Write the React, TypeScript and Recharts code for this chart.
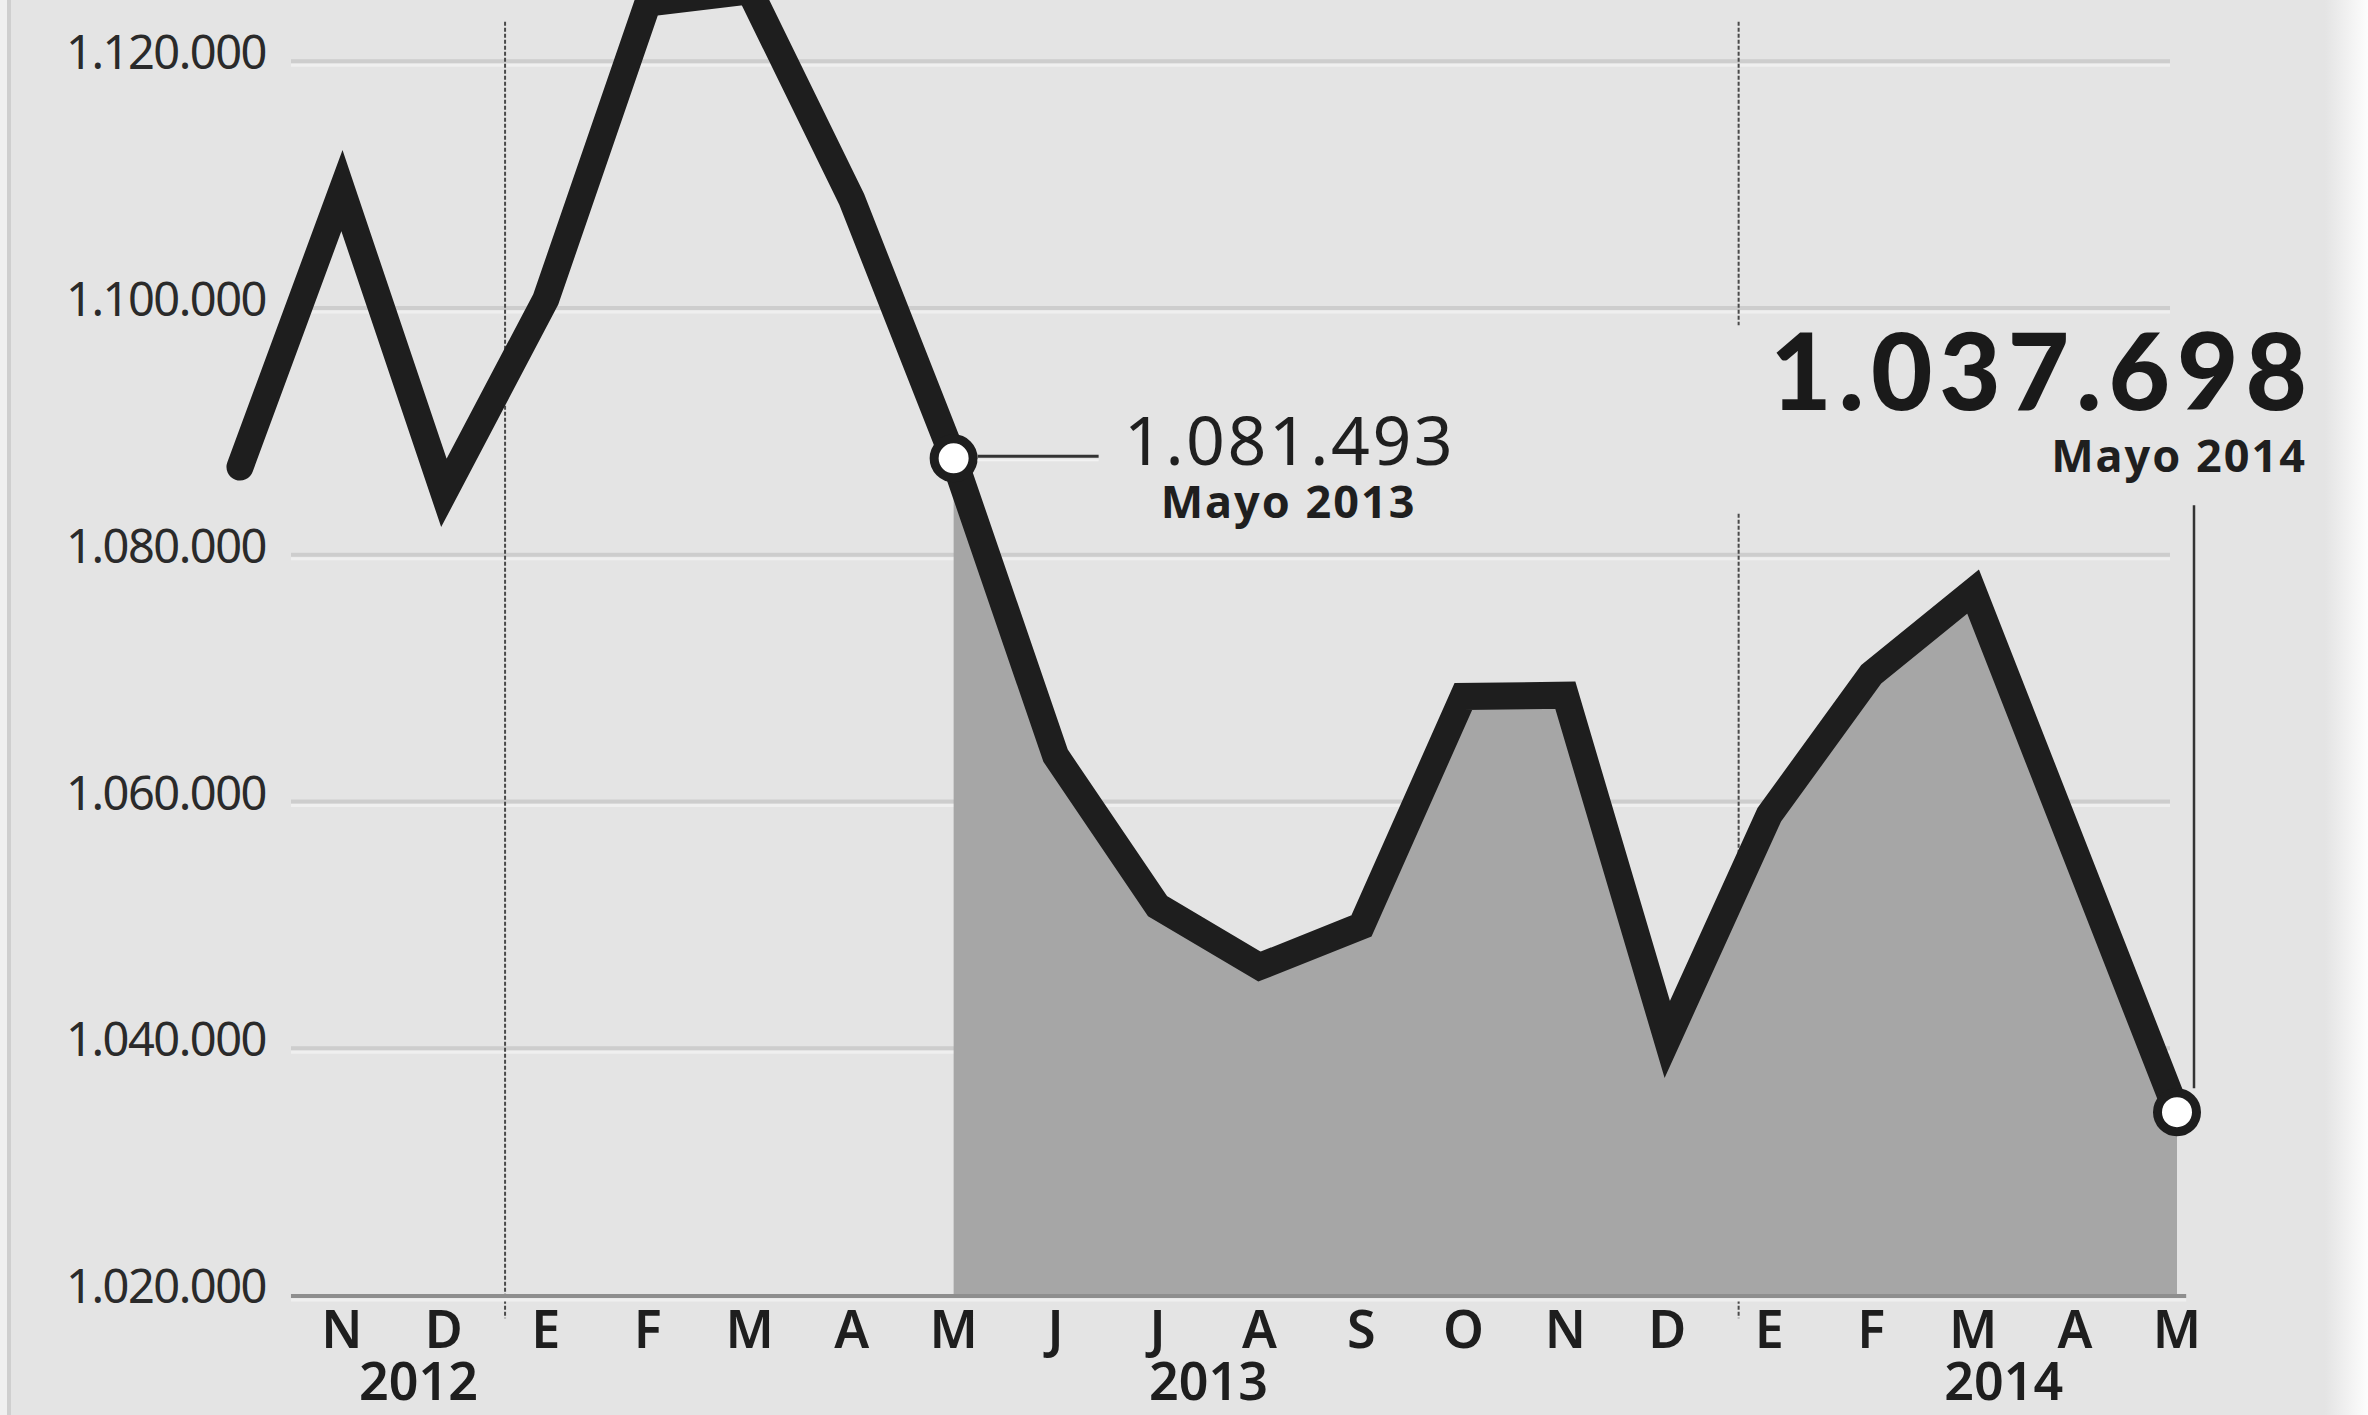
import React from 'react';
import { ComposedChart, Line, Area, XAxis, YAxis, ReferenceLine, ReferenceDot, CartesianGrid } from 'recharts';

// Meses (oct 2012 - may 2014)
const meses = ['O', 'N', 'D', 'E', 'F', 'M', 'A', 'M', 'J', 'J', 'A', 'S', 'O', 'N', 'D', 'E', 'F', 'M', 'A', 'M'];
const afiliados = [
  1087200, 1109600, 1085100, 1100800, 1124800, 1125800, 1108900, 1087900,
  1063800, 1051600, 1046700, 1050000, 1068600, 1068700, 1040800, 1059000,
  1070400, 1077100, 1056000, 1034900,
];
const inicioRelleno = 7;
const ticksY = [1020000, 1040000, 1060000, 1080000, 1100000, 1120000];
const lineasGuia = [1040000, 1060000, 1080000, 1100000, 1120000];
const ticksMeses = [1, 2, 3, 4, 5, 6, 7, 8, 9, 10, 11, 12, 13, 14, 15, 16, 17, 18, 19];
const aniosPos = [1.75, 9.5, 17.3];
const aniosTxt = ['2012', '2013', '2014'];
const destacados = [7, 19];
const etiquetas = [
  { i: 7, valor: '1.081.493', fecha: 'Mayo 2013' },
  { i: 19, valor: '1.037.698', fecha: 'Mayo 2014' },
];

const data = meses.map((m, i) => ({
  i,
  mes: m,
  v: afiliados[i],
  relleno: i >= inicioRelleno ? afiliados[i] : null,
}));

const FONT = "'Noto Sans', 'Open Sans', sans-serif";
const fmt = (n: number) => String(n).replace(/\B(?=(\d{3})+(?!\d))/g, '.');

const TickY = (p: any) => (
  <text x={p.x + 26} y={p.y + 7} textAnchor="end" fontFamily={FONT} fontSize={47}
    fontStretch="condensed" letterSpacing={-1.5} fill="#2a2a2a">
    {fmt(p.payload.value)}
  </text>
);

const TickMes = (p: any) => (
  <text x={p.x} y={p.y + 52} textAnchor="middle" fontFamily={FONT} fontSize={52}
    fontWeight={600} fontStretch="condensed" fill="#1e1e1e">
    {meses[Math.round(p.payload.value)]}
  </text>
);

const TickAnio = (p: any) => {
  const k = aniosPos.indexOf(p.payload.value);
  return (
    <text x={p.x} y={p.y + 34} textAnchor="middle" fontFamily={FONT} fontSize={52}
      fontWeight={600} fontStretch="condensed" fill="#1e1e1e">
      {aniosTxt[k]}
    </text>
  );
};

const guia = (p: any) => {
  if (p.y != null && p.height != null && p.y1 >= p.y + p.height - 1) return <g key={p.key} />;
  return (
    <g key={p.key}>
      <line x1={p.x1 + 51} x2={p.x2 - 7} y1={p.y1 - 1} y2={p.y2 - 1} stroke="#cdcdcd" strokeWidth={4} />
      <line x1={p.x1 + 51} x2={p.x2 - 7} y1={p.y1 + 3} y2={p.y2 + 3} stroke="#efefef" strokeWidth={3} />
    </g>
  );
};

const base = (p: any) => (
  <g>
    <line x1={p.x1} x2={p.x2} y1={p.y1} y2={p.y2} stroke="#8e8e8e" strokeWidth={4} />
    <line x1={p.x1} x2={p.x2} y1={p.y1 + 4} y2={p.y2 + 4} stroke="#efefef" strokeWidth={3} />
  </g>
);

const separador = (p: any) => (
  <line x1={p.x1} x2={p.x2} y1={p.y1} y2={p.y2} stroke="#4a4a4a" strokeWidth={2} strokeDasharray="4 2" />
);

const Punto = (p: any) => {
  if (!destacados.includes(p.index)) return <g key={`d${p.index}`} />;
  return <circle key={`d${p.index}`} cx={p.cx} cy={p.cy} r={19.5} fill="#ffffff" stroke="#1e1e1e" strokeWidth={9} />;
};

const Nota2013 = (p: any) => {
  const e = etiquetas[0];
  return (
    <g>
      <line x1={p.cx + 24} x2={p.cx + 145} y1={p.cy - 2} y2={p.cy - 2} stroke="#333" strokeWidth={3} />
      <line x1={p.cx + 24} x2={p.cx + 145} y1={p.cy + 2} y2={p.cy + 2} stroke="#f2f2f2" strokeWidth={2} />
      <text x={p.cx + 336} y={p.cy + 7} textAnchor="middle" fontFamily={FONT} fontSize={68}
        letterSpacing={2.5} fill="#1f1f1f">{e.valor}</text>
      <text x={p.cx + 335} y={p.cy + 60} textAnchor="middle" fontFamily={FONT} fontSize={45}
        fontWeight={700} letterSpacing={2} fill="#1f1f1f">{e.fecha}</text>
    </g>
  );
};

const Nota2014 = (p: any) => {
  const e = etiquetas[1];
  return (
    <g>
      <line x1={p.cx + 17} x2={p.cx + 17} y1={p.cy - 607} y2={p.cy - 24} stroke="#333" strokeWidth={2.5} />
      <text x={p.cx + 137} y={p.cy - 702} textAnchor="end" fontFamily="Lato, 'Noto Sans', sans-serif"
        fontSize={106} fontWeight={900} letterSpacing={7} fill="#1a1a1a">{e.valor}</text>
      <text x={p.cx + 130} y={p.cy - 640} textAnchor="end" fontFamily={FONT} fontSize={45}
        fontWeight={700} letterSpacing={2} fill="#1f1f1f">{e.fecha}</text>
    </g>
  );
};

export default function App() {
  return (
    <div style={{ position: 'absolute', left: 0, top: 0, width: 2368, height: 1415, overflow: 'hidden', background: '#e4e4e4' }}>
      <div style={{ position: 'absolute', left: 0, top: 0, width: 7, height: 1415, background: '#f0f0f0' }} />
      <div style={{ position: 'absolute', left: 7, top: 0, width: 4, height: 1415, background: '#cfcfcf' }} />
      <div style={{ position: 'absolute', left: 2325, top: 0, width: 43, height: 1415, background: 'linear-gradient(to right, #e4e4e4, #fdfdfd)' }} />
      <div style={{ position: 'absolute', left: 0, top: -61 }}>
        <ComposedChart width={2368} height={1476} data={data} margin={{ top: 0, right: 191, bottom: 0, left: 0 }}>
          <XAxis dataKey="i" type="number" domain={[0, 19]} ticks={ticksMeses} interval={0}
            axisLine={false} tickLine={false} tickSize={0} tickMargin={0} height={70} tick={<TickMes />} />
          <XAxis xAxisId="anios" dataKey="i" type="number" domain={[0, 19]} ticks={aniosPos} interval={0}
            axisLine={false} tickLine={false} tickSize={0} tickMargin={0} height={49} tick={<TickAnio />} />
          <YAxis type="number" domain={[1020000, 1130000]} ticks={ticksY} interval={0} width={240}
            axisLine={false} tickLine={false} tickSize={0} tickMargin={0} tick={<TickY />} />
          <CartesianGrid vertical={false} horizontal={guia} horizontalValues={lineasGuia} stroke="#cdcdcd" />
          <ReferenceLine zIndex={-50} segment={[{ x: 2.6, y: 1123300 }, { x: 2.6, y: 1018200 }]} ifOverflow="visible" shape={separador} />
          <ReferenceLine zIndex={-50} segment={[{ x: 14.7, y: 1123300 }, { x: 14.7, y: 1098700 }]} ifOverflow="visible" shape={separador} />
          <ReferenceLine zIndex={-50} segment={[{ x: 14.7, y: 1083400 }, { x: 14.7, y: 1018200 }]} ifOverflow="visible" shape={separador} />
          <Area dataKey="relleno" type="linear" fill="#a6a6a6" fillOpacity={1} stroke="none" isAnimationActive={false} dot={false} activeDot={false} />
          <ReferenceLine zIndex={150} segment={[{ x: 0.5, y: 1020000 }, { x: 19.09, y: 1020000 }]} ifOverflow="visible" shape={base} />
          <Line dataKey="v" type="linear" stroke="#1e1e1e" strokeWidth={27} strokeLinejoin="miter" strokeMiterlimit={10}
            strokeLinecap="round" dot={Punto} activeDot={false} isAnimationActive={false} />
          <ReferenceDot x={etiquetas[0].i} y={afiliados[etiquetas[0].i]} r={0} ifOverflow="visible" shape={Nota2013} />
          <ReferenceDot x={etiquetas[1].i} y={afiliados[etiquetas[1].i]} r={0} ifOverflow="visible" shape={Nota2014} />
        </ComposedChart>
      </div>
    </div>
  );
}
